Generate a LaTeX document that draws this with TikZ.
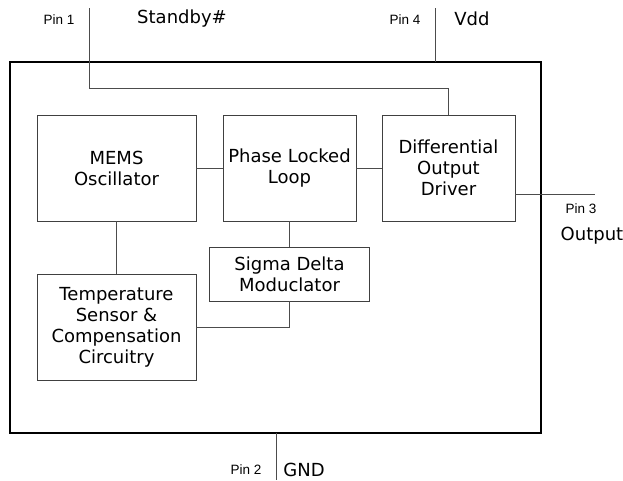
\documentclass[tikz,border=0pt]{standalone}
\usepackage{fontspec}
\setmainfont{DejaVu Sans}
\newfontfamily\pinfont{Liberation Sans}
\begin{document}
\begin{tikzpicture}[x=1pt,y=-1pt,
  blk/.style={draw=black!75, line width=0.8pt, align=center, inner sep=0pt,
    font=\fontsize{18}{21}\selectfont},
  wire/.style={draw=black!70, line width=0.8pt},
  pinlbl/.style={font=\pinfont\fontsize{13.5}{16}\selectfont, inner sep=0pt},
  siglbl/.style={font=\fontsize{18}{21}\selectfont, inner sep=0pt}]
\useasboundingbox (0,0) rectangle (623,480);
% outer package
\draw[line width=2.6pt] (10,62) rectangle (541,433);
% blocks
\node[blk, minimum width=159, minimum height=106] (mems) at (116.5,168) {MEMS\\Oscillator};
\node[blk, minimum width=133, minimum height=106] (pll) at (289.5,168) {Phase Locked\\Loop};
\node[blk, minimum width=133, minimum height=106] (diff) at (448.5,168) {Differential\\Output\\Driver};
\node[blk, minimum width=160, minimum height=54] (sig) at (289.5,274) {Sigma Delta\\Moduclator};
\node[blk, minimum width=159, minimum height=106] (temp) at (116.5,327) {Temperature\\Sensor \&\\Compensation\\Circuitry};
% pin coordinates
\coordinate (p1) at (89,8);
\coordinate (p1bend) at (89,88);
\coordinate (p4) at (435,8);
\coordinate (p4in) at (435,62);
\coordinate (p3) at (595,194);
\coordinate (p2in) at (276,433);
\coordinate (p2) at (276,480);
% connectors
\draw[wire] (mems.east) -- (pll.west);
\draw[wire] (pll.east) -- (diff.west);
\draw[wire] (mems.south) -- (temp.north);
\draw[wire] (pll.south) -- (sig.north);
\draw[wire] (sig.south) |- (temp.east);
\draw[wire] (diff.east |- p3) -- (p3);
\draw[wire] (p1) -- (p1bend) -| (diff.north);
\draw[wire] (p4) -- (p4in);
\draw[wire] (p2in) -- (p2);
% labels
\node[pinlbl] (l1) at (59,20) {Pin 1};
\node[siglbl] (s1) at (182,19) {Standby\#};
\node[pinlbl] (l4) at (405,20) {Pin 4};
\node[siglbl] (s4) at (472,19) {Vdd};
\node[pinlbl] (l3) at (581,209) {Pin 3};
\node[siglbl] (s3) at (592,236) {Output};
\node[pinlbl] (l2) at (246,470) {Pin 2};
\node[siglbl] (s2) at (304,470) {GND};
\end{tikzpicture}
\end{document}
